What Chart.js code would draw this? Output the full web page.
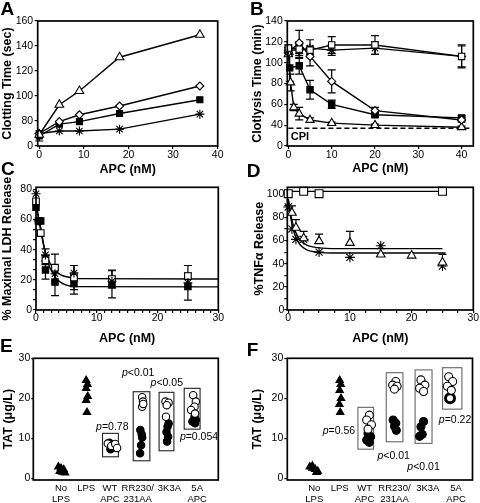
<!DOCTYPE html>
<html>
<head>
<meta charset="utf-8">
<script src="https://cdn.jsdelivr.net/npm/chart.js@4"></script>
<style>
body { margin: 0; background: #fff; width: 480px; height: 503px; position: relative; overflow: hidden; }
canvas { position: absolute; }
</style>
</head>
<body>
<canvas id="cA" width="240" height="178" style="left:0;top:0"></canvas>
<canvas id="cB" width="240" height="178" style="left:240px;top:0"></canvas>
<canvas id="cC" width="240" height="186" style="left:0;top:160px"></canvas>
<canvas id="cD" width="240" height="186" style="left:240px;top:160px"></canvas>
<canvas id="cE" width="240" height="173" style="left:0;top:330px"></canvas>
<canvas id="cF" width="240" height="173" style="left:240px;top:330px"></canvas>
<script>
// ---- A: clotting time vs APC
const aX = [0, 4.5, 9, 18, 36];
const aTriangle = [69, 93, 104, 131, 149];
const aDiamond = [70, 79.5, 85, 92, 108];
const aSquare = [68, 77.5, 79.5, 86, 97];
const aStar = [70, 72, 72, 73.5, 85.5];
const aSquareErr = [4, 0, 0, 0, 0];
const aYTicks = [60, 80, 100, 120, 140, 160]; // 60 is shown as "0" (broken axis)
const aXTicks = [0, 10, 20, 30, 40];

// ---- B: clotlysis time
const bX = [0, 2.5, 5, 10, 20, 40];
const bOpenSquare = [114, 113, 112, 117, 117, 106];
const bOpenSquareErr = [3, 4, 4, 8, 9, 11];
const bStar = [112, 112, 114, 112, 114, 106];
const bStarErr = [3, 8, 8, 5, 6, 10];
const bDiamond = [110, 119, 106, 82, 54, 45];
const bDiamondErr = [3, 12, 9, 11, 3, 2];
const bFilledX = [0, 0.3, 2.5, 5, 10, 20, 40];
const bFilled = [112, 95, 97, 74, 60, 50, 47];
const bFilledErr = [3, 13, 8, 9, 4, 2, 2];
const bTriX = [0, 0.5, 1.25, 2.5, 5, 10, 20, 40];
const bTri = [108, 81, 57, 51, 45, 42, 40, 38];
const bTriErr = [0, 8, 3, 6, 2, 1, 1, 1];
const bCpiX = [0, 42.5];
const bCpiY = [37, 37];
const bYTicks = [20, 40, 60, 80, 100, 120, 140]; // 20 is shown as "0"
const bXTicks = [0, 10, 20, 30, 40];

// ---- C: LDH release
const cOpenX = [0, 0.78, 1.56, 3.125, 6.25, 12.5, 25];
const cOpen = [72, 51, 33, 28, 21.5, 20.5, 22.5];
const cOpenErr = [0, 0, 3, 9, 8, 6, 7];
const cFillX = [0, 0.39, 0.78, 1.56, 3.125, 6.25, 12.5, 25];
const cFill = [68, 59, 59, 26.5, 18.5, 17.5, 17, 15.5];
const cFillErr = [0, 0, 0, 6, 9, 7, 9, 9];
const cStarX = [0, 0.39, 1.56, 3.125, 6.25, 12.5, 25];
const cStar = [77, 59, 36.5, 24, 24.5, 19, 18];
const cStarErr = [0, 0, 4, 0, 5, 0, 0];
const cFit1X = [0, 0.8, 1.56, 2.3, 3.125, 4, 5, 7, 30];
const cFit1 = [72, 52, 38, 31, 26.5, 23.5, 22, 20.8, 20.5];
const cFit2X = [0, 0.8, 1.56, 2.3, 3.125, 4, 5, 6.5, 30];
const cFit2 = [68, 54, 37, 28, 22, 18.5, 16.5, 15.5, 15.3];
const cXTicks = [0, 1.25, 2.5, 3.75, 5, 6.25, 7.5, 8.75, 10, 11.25, 12.5, 13.75, 15, 16.25, 17.5, 18.75, 20, 21.25, 22.5, 23.75, 25, 26.25, 27.5, 28.75, 30];
const cYTicks = [0, 6.67, 13.33, 20, 26.67, 33.33, 40, 46.67, 53.33, 60, 66.67, 73.33, 80];

// ---- D: TNFa release
const dSquareX = [0, 2.5, 5, 25];
const dSquare = [100.5, 102.5, 100.5, 102.5];
const dSquareFitX = [0, 25];
const dSquareFit = [102.5, 102.5];
const dTriX = [0.6, 1.25, 2.5, 5, 10, 15, 20, 25];
const dTri = [84, 71, 62, 59.5, 58, 48, 47, 41];
const dTriErr = [6, 7, 6, 6, 10, 0, 0, 7];
const dStarX = [0, 0.6, 1.25, 2.5, 5, 10, 15, 25];
const dStar = [89, 70, 61, 61, 50, 45.5, 55.5, 38];
const dFit1X = [0, 0.5, 1, 1.5, 2, 3, 4, 5, 7, 25];
const dFit1 = [96, 80, 70, 64, 60, 56, 54.5, 53.7, 53, 53];
const dFit2X = [0, 0.5, 1, 1.5, 2, 3, 4, 5, 7, 25.5];
const dFit2 = [96, 77, 66, 60, 56, 52, 50.5, 49.8, 49.3, 49.2];
const dXTicks = [0, 2.5, 5, 7.5, 10, 12.5, 15, 17.5, 20, 22.5, 25, 27.5, 30];
const dYTicks = [0, 10, 20, 30, 40, 50, 60, 70, 80, 90, 100];

// ---- E / F: TAT, categories on a numeric axis
const eLabels = [['No', 'LPS'], ['LPS'], ['WT', 'APC'], ['RR230/', '231AA'], ['3K3A'], ['5A', 'APC']];
const tatYTicks = [0, 10, 20, 30];
const eTickX = [1.05, 2, 2.9, 3.95, 5.15, 6.2];
const eTriX = [0.95, 1.05, 1.15, 1.0, 1.1, 1.2, 2.0, 2.05, 2.0, 2.06, 2.0, 2.03];
const eTriY = [2.9, 2.5, 2.2, 1.8, 1.6, 1.4, 24.5, 23.5, 22.5, 20.5, 19.5, 16.5];
const eOpenX = [2.82, 2.95, 3.1, 3.17, 4.12, 4.15, 4.12, 4.16, 5.0, 5.12, 5.05, 5.02, 6.05, 6.15, 6.1, 5.97, 6.12];
const eOpenY = [8.7, 8.1, 8.6, 7.6, 20.3, 19.2, 17.9, 18.6, 19.2, 18.9, 18.3, 15.4, 20.8, 19.2, 17.9, 17.1, 16.2];
const eFillX = [2.88, 3.0, 3.05, 2.92, 4.05, 4.1, 4.12, 4.08, 4.04, 5.12, 5.08, 5.04, 5.1, 5.06, 6.1, 6.15, 6.12, 6.02];
const eFillY = [8.9, 8.3, 7.7, 7.3, 12.1, 11.0, 10.2, 8.3, 6.3, 13.7, 12.9, 11.6, 10.4, 9.2, 15.4, 14.6, 13.75, 14.2];
const eBoxes = [[2.62, 3.22, 5.4, 11.25], [3.78, 4.41, 4.4, 21.65], [4.76, 5.32, 6.9, 21.5], [5.71, 6.31, 12.3, 22.5]];
const eP = [['<0.01', 3.97, 26.2], ['<0.05', 5.05, 23.75], ['=0.78', 2.99, 12.75], ['=0.054', 6.27, 10.25]];

const fTickX = [1.02, 1.98, 2.92, 4.05, 5.31, 6.38];
const fTriX = [0.85, 0.95, 1.05, 1.15, 0.95, 1.1, 1.98, 2.02, 1.98, 2.03, 1.97, 2.0];
const fTriY = [2.9, 2.6, 2.3, 1.8, 3.1, 1.5, 24.5, 23.5, 22, 20, 18.5, 16.5];
const fOpenX = [3.1, 3.0, 3.18, 3.05, 4.1, 3.98, 4.15, 4.05, 5.05, 5.2, 5.0, 5.15, 6.1, 6.25, 6.05, 6.2];
const fOpenY = [15.8, 14.6, 13.4, 12.3, 24.2, 23.3, 23.0, 22.3, 24.6, 23.3, 22.5, 21.7, 25.4, 24.2, 23.0, 22.0];
const fFillX = [3.05, 3.15, 3.0, 3.1, 4.0, 4.1, 4.05, 4.12, 5.15, 5.05, 5.1, 5.0];
const fFillY = [11.2, 10.4, 9.6, 9.0, 14.6, 13.8, 13.0, 12.0, 14.2, 12.9, 11.0, 10.5];
const fRingX = [6.15];
const fRingY = [20.0];
const fBoxes = [[2.67, 3.26, 7.3, 17.75], [3.74, 4.37, 9.15, 26.4], [4.83, 5.47, 8.75, 27.1], [5.87, 6.6, 17.3, 27.65]];
const fP = [['=0.56', 1.95, 11.9], ['<0.01', 4.02, 5.6], ['<0.01', 5.15, 2.9], ['=0.22', 6.34, 14.6]];

const FONT = '"Liberation Sans", Arial, Helvetica, sans-serif';
Chart.defaults.font.family = FONT;
Chart.defaults.color = '#000';

// box round each plot area
const frame = {
    id: 'frame',
    afterDatasetsDraw(chart) {
        const a = chart.chartArea, ctx = chart.ctx;
        ctx.save();
        ctx.strokeStyle = '#000';
        ctx.lineWidth = 1.7;
        ctx.strokeRect(a.left, a.top, a.right - a.left, a.bottom - a.top);
        ctx.restore();
    }
};

const errorBars = {
    id: 'errorBars',
    beforeDatasetsDraw(chart) {
        const ctx = chart.ctx, xs = chart.scales.x, ys = chart.scales.y;
        ctx.save();
        ctx.strokeStyle = '#000';
        ctx.lineWidth = 1.2;
        chart.data.datasets.forEach(function (ds) {
            if (!ds.errors) return;
            ds.data.forEach(function (p, i) {
                const e = ds.errors[i];
                if (!e) return;
                const px = xs.getPixelForValue(p.x);
                const top = ys.getPixelForValue(p.y + e);
                const bot = ys.getPixelForValue(ds.upOnly ? p.y : p.y - e);
                ctx.beginPath();
                ctx.moveTo(px, top); ctx.lineTo(px, bot);
                ctx.moveTo(px - 4, top); ctx.lineTo(px + 4, top);
                if (!ds.upOnly) { ctx.moveTo(px - 4, bot); ctx.lineTo(px + 4, bot); }
                ctx.stroke();
            });
        });
        ctx.restore();
    }
};

// panel letter, bracket boxes, p values, other texts
const notes = {
    id: 'notes',
    beforeDatasetsDraw(chart, args, o) {
        if (!o.boxes) return;
        const ctx = chart.ctx, xs = chart.scales.x, ys = chart.scales.y;
        ctx.save();
        ctx.strokeStyle = o.boxColor || '#000';
        ctx.lineWidth = 1.1;
        o.boxes.forEach(function (b) {
            const x0 = xs.getPixelForValue(b[0]), x1 = xs.getPixelForValue(b[1]);
            const y0 = ys.getPixelForValue(b[3]), y1 = ys.getPixelForValue(b[2]);
            ctx.strokeRect(x0, y0, x1 - x0, y1 - y0);
        });
        ctx.restore();
    },
    afterDraw(chart, args, o) {
        const ctx = chart.ctx, xs = chart.scales.x, ys = chart.scales.y;
        ctx.save();
        ctx.fillStyle = '#000';
        ctx.textBaseline = 'alphabetic';
        ctx.textAlign = 'left';
        ctx.font = 'bold 19px ' + FONT;
        ctx.fillText(o.letter, o.lx, o.ly);
        (o.pvals || []).forEach(function (p) {
            ctx.font = 'italic 10.5px ' + FONT;
            const w1 = ctx.measureText('p').width;
            ctx.font = '10.5px ' + FONT;
            const w2 = ctx.measureText(p[0]).width;
            const x = xs.getPixelForValue(p[1]) - (w1 + w2) / 2;
            const y = ys.getPixelForValue(p[2]);
            ctx.textBaseline = 'middle';
            ctx.font = 'italic 10.5px ' + FONT;
            ctx.fillText('p', x, y);
            ctx.font = '10.5px ' + FONT;
            ctx.fillText(p[0], x + w1, y);
        });
        (o.texts || []).forEach(function (t) {
            ctx.font = t.font + ' ' + FONT;
            ctx.textBaseline = 'middle';
            ctx.fillText(t.text, xs.getPixelForValue(t.x), ys.getPixelForValue(t.y));
        });
        ctx.restore();
    }
};

function axis(o) {
    return {
        type: 'linear',
        min: o.min,
        max: o.max,
        afterBuildTicks: function (s) { s.ticks = o.ticks.map(function (v) { return {value: v}; }); },
        afterFit: function (s) {
            if (s.isHorizontal()) s.height = o.size; else s.width = o.size;
        },
        border: {display: false},
        grid: {drawOnChartArea: false, drawTicks: o.tick !== 0, tickLength: o.tick === undefined ? 3 : o.tick, color: '#000', lineWidth: 1.2},
        ticks: {
            autoSkip: false, maxRotation: 0, padding: o.pad || 0,
            font: o.font || {size: 10.5, lineHeight: 1.05},
            callback: o.label || function (v) { return v; }
        },
        title: {display: true, text: o.title, font: {size: 12.5, weight: 'bold'}, padding: o.tpad}
    };
}

function series(xv, yv, shape, r, fill, extra) {
    return Object.assign({
        data: xv.map(function (x, i) { return {x: x, y: yv[i]}; }),
        showLine: true,
        borderColor: '#000',
        borderWidth: 1.4,
        pointStyle: shape,
        pointRadius: r,
        pointHoverRadius: r,
        pointBackgroundColor: fill,
        pointBorderColor: '#000',
        pointBorderWidth: 1.1,
        clip: false
    }, extra || {});
}

function fit(xv, yv, extra) {
    return series(xv, yv, 'circle', 0, '#000', Object.assign({cubicInterpolationMode: 'monotone', borderWidth: 1.4}, extra || {}));
}

function plot(id, datasets, xs, ys, pad, note) {
    return new Chart(document.getElementById(id), {
        type: 'scatter',
        data: {datasets: datasets},
        options: {
            responsive: false,
            animation: false,
            layout: {padding: pad},
            scales: {x: xs, y: ys},
            plugins: {legend: {display: false}, tooltip: {enabled: false}, notes: note}
        },
        plugins: [frame, errorBars, notes]
    });
}

const majorOnly = function (list) {
    return function (v) { return list.indexOf(v) >= 0 ? v : ''; };
};

// A
plot('cA', [
    series(aX, aTriangle, 'triangle', 5, '#fff'),
    series(aX, aDiamond, 'rectRot', 4, '#fff'),
    series(aX, aSquare, 'rect', 4.3, '#000', {errors: aSquareErr}),
    series(aX, aStar, 'star', 4.5, '#000')
],
    axis({min: -0.35, max: 40, ticks: aXTicks, size: 32, tick: 3, pad: 0.5, title: 'APC (nM)', tpad: 1}),
    axis({min: 60, max: 160, ticks: aYTicks, size: 37.7, tick: 3, pad: 1.5, title: 'Clotting Time (sec)', tpad: 0.5,
        label: function (v) { return v === 60 ? '0' : v; }}),
    {left: 0, top: 21, right: 22.3, bottom: 0},
    {letter: 'A', lx: 0.5, ly: 15});

// B
plot('cB', [
    series(bX, bOpenSquare, 'rect', 4.5, '#fff', {errors: bOpenSquareErr}),
    series(bX, bStar, 'star', 4.5, '#000', {errors: bStarErr}),
    series(bX, bDiamond, 'rectRot', 4, '#fff', {errors: bDiamondErr}),
    series(bFilledX, bFilled, 'rect', 4.5, '#000', {errors: bFilledErr}),
    series(bTriX, bTri, 'triangle', 4.8, '#fff', {errors: bTriErr}),
    series(bCpiX, bCpiY, 'circle', 0, '#000', {borderDash: [5, 3], borderWidth: 1.6})
],
    axis({min: -0.25, max: 42.7, ticks: bXTicks, size: 32, tick: 3, pad: 0.5, title: 'APC (nM)', tpad: 2}),
    axis({min: 20, max: 140, ticks: bYTicks, size: 47.3, tick: 3, pad: 1.5, title: 'Clotlysis Time (min)', tpad: 10,
        label: function (v) { return v === 20 ? '0' : v; }}),
    {left: 0, top: 21, right: 6.7, bottom: 0},
    {letter: 'B', lx: 10, ly: 15, texts: [{text: 'CPI', x: 0.55, y: 28.5, font: 'bold 11px'}]});

// C
plot('cC', [
    series(cStarX, cStar, 'star', 4.5, '#000', {showLine: false, errors: cStarErr}),
    series(cOpenX, cOpen, 'rect', 4.7, '#fff', {showLine: false, errors: cOpenErr}),
    series(cFillX, cFill, 'rect', 4.5, '#000', {showLine: false, errors: cFillErr}),
    fit(cFit1X, cFit1),
    fit(cFit2X, cFit2)
],
    axis({min: 0, max: 30, ticks: cXTicks, size: 36, tick: 3, pad: 0, title: 'APC (nM)', tpad: 0,
        label: majorOnly([0, 10, 20, 30])}),
    axis({min: 0, max: 81.3, ticks: cYTicks, size: 36, tick: 3, pad: 1, title: '% Maximal LDH Release', tpad: 0.5,
        label: majorOnly([0, 20, 40, 60, 80])}),
    {left: 0, top: 27.3, right: 21.7, bottom: 0},
    {letter: 'C', lx: 1, ly: 15});

// D
plot('cD', [
    series(dSquareX, dSquare, 'rect', 5.6, '#fff', {showLine: false}),
    series(dTriX, dTri, 'triangle', 5, '#fff', {showLine: false, errors: dTriErr, upOnly: true}),
    series(dStarX, dStar, 'star', 5, '#000', {showLine: false}),
    fit(dSquareFitX, dSquareFit),
    fit(dFit1X, dFit1),
    fit(dFit2X, dFit2)
],
    axis({min: -0.15, max: 30, ticks: dXTicks, size: 36, tick: 3, pad: 0, title: 'APC (nM)', tpad: 0,
        label: majorOnly([0, 10, 20, 30])}),
    axis({min: 0, max: 106, ticks: dYTicks, size: 47.3, tick: 3, pad: 0, title: '%TNFα Release', tpad: 12.5,
        label: majorOnly([0, 20, 40, 60, 80, 100])}),
    {left: 0, top: 27.3, right: 6.7, bottom: 0},
    {letter: 'D', lx: 6.7, ly: 16.7});

// E
plot('cE', [
    series(eTriX, eTriY, 'triangle', 4.3, '#000', {showLine: false}),
    series(eOpenX, eOpenY, 'circle', 3.7, '#fff', {showLine: false}),
    series(eFillX, eFillY, 'circle', 3.7, '#000', {showLine: false})
],
    axis({min: 0, max: 7, ticks: eTickX, size: 23, tick: 0, pad: 2.5, title: '', tpad: 0,
        font: {size: 9.5, lineHeight: 1.15},
        label: function (v, i) { return eLabels[i]; }}),
    axis({min: -0.4, max: 30, ticks: tatYTicks, size: 33.3, tick: 2, pad: 1, title: 'TAT (μg/L)', tpad: 1.5}),
    {left: 0, top: 28.3, right: 21.7, bottom: 0},
    {letter: 'E', lx: 0, ly: 21.7, boxes: eBoxes, boxColor: '#222', pvals: eP});

// F
plot('cF', [
    series(fTriX, fTriY, 'triangle', 4.3, '#000', {showLine: false}),
    series(fOpenX, fOpenY, 'circle', 4, '#fff', {showLine: false}),
    series(fFillX, fFillY, 'circle', 4, '#000', {showLine: false}),
    series(fRingX, fRingY, 'circle', 4.5, '#fff', {showLine: false, pointBorderWidth: 3})
],
    axis({min: 0, max: 7, ticks: fTickX, size: 23, tick: 0, pad: 2.5, title: '', tpad: 0,
        font: {size: 9.5, lineHeight: 1.15},
        label: function (v, i) { return eLabels[i]; }}),
    axis({min: -0.4, max: 30, ticks: tatYTicks, size: 47.3, tick: 3, pad: 1, title: 'TAT (μg/L)', tpad: 10}),
    {left: 0, top: 28.3, right: 6.7, bottom: 0},
    {letter: 'F', lx: 6.7, ly: 26, boxes: fBoxes, boxColor: '#666', pvals: fP});
</script>
</body>
</html>
